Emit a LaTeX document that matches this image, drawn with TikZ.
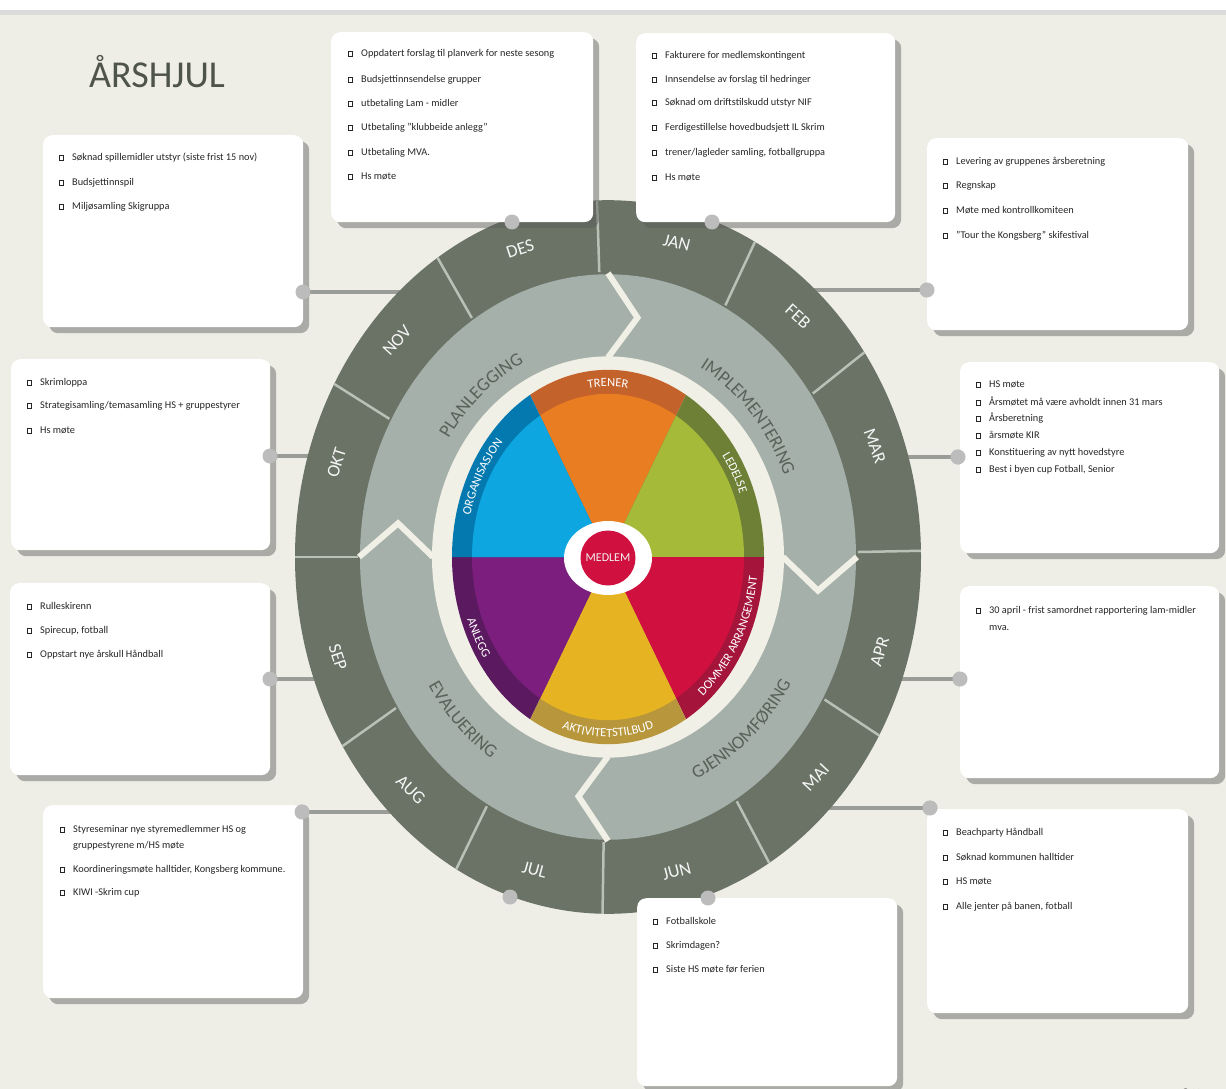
\documentclass[tikz,border=0pt]{standalone}
\usepackage{fontspec}
\setmainfont{Carlito}
\usetikzlibrary{shadows,decorations.text}
\definecolor{bg}{HTML}{EEEEE6}
\definecolor{ringdark}{HTML}{6A7366}
\definecolor{ringsep}{HTML}{B9C0B6}
\definecolor{phase}{HTML}{A6B0AA}
\definecolor{cream}{HTML}{F1F0E6}
\definecolor{phasetxt}{HTML}{59615A}
\definecolor{titlec}{HTML}{4E5447}
\definecolor{cOrange}{HTML}{E97D22}
\definecolor{cOrangeB}{HTML}{C4622B}
\definecolor{cGreen}{HTML}{A6BA39}
\definecolor{cGreenB}{HTML}{6E7F36}
\definecolor{cRed}{HTML}{D0103F}
\definecolor{cRedB}{HTML}{A4143B}
\definecolor{cYellow}{HTML}{E6B322}
\definecolor{cYellowB}{HTML}{B8973C}
\definecolor{cPurple}{HTML}{7C1E7E}
\definecolor{cPurpleB}{HTML}{5B1A5F}
\definecolor{cBlue}{HTML}{0EA6E0}
\definecolor{cBlueB}{HTML}{0479AF}
\definecolor{dotc}{HTML}{BCBCBC}
\definecolor{connc}{HTML}{9A9C98}
\newcommand{\sqb}{\raisebox{0.2pt}{\setlength{\fboxsep}{0pt}\setlength{\fboxrule}{0.75pt}\fbox{\rule{0pt}{4.2pt}\hspace{3.5pt}}}}
\newcommand{\itemfont}{\fontsize{10.3}{12}\selectfont}
\newcommand{\monthfont}{\fontsize{18}{18}\selectfont}
\newcommand{\phasefont}{\fontsize{18.5}{18.5}\selectfont}
\newcommand{\bandfont}{\fontsize{12.5}{12.5}\selectfont}
\begin{document}
\begin{tikzpicture}[x=1pt,y=-1pt,
  card/.style={fill=white, rounded corners=9pt, anchor=north west, inner sep=0pt,
    drop shadow={shadow xshift=6pt, shadow yshift=-6pt, opacity=0.45, fill=black!65}},
  itm/.style={anchor=west, font=\itemfont, text=black!85, inner sep=0pt, text height=7pt, text depth=2pt},
  dot/.style={circle, fill=dotc, minimum size=15pt, inner sep=0pt},
  conn/.style={draw=connc, line width=4pt},
  monthlbl/.style={text=white!96!black, font=\monthfont, inner sep=0pt},
  msep/.style={draw=ringsep, line width=2.5pt},
  chev/.style={draw=cream, line width=6pt, line join=miter},
]
\useasboundingbox (0,0) rectangle (1226,1089);
\clip (0,0) rectangle (1226,1089);
\fill[bg] (0,0) rectangle (1226,1089);
\fill[white] (0,0) rectangle (1226,10);
\fill[black!14] (0,10) rectangle (1226,15);

% title
\node[anchor=base west, font=\fontsize{38}{38}\selectfont, text=titlec, inner sep=0pt] (title) at (89,88) {ÅRSHJUL};

% connector ends (hidden behind the ring)
\coordinate (eNOV) at (430,292);
\coordinate (eFEB) at (790,290);
\coordinate (eOKT) at (350,456);
\coordinate (eMAR) at (870,457);
\coordinate (eSEP) at (350,679);
\coordinate (eAPR) at (870,679);
\coordinate (eAUG) at (430,812);
\coordinate (eMAI) at (800,808);

% dots
\node[dot] (dNOV) at (303,292) {};
\node[dot] (dFEB) at (927,290) {};
\node[dot] (dOKT) at (270,456) {};
\node[dot] (dMAR) at (958,457) {};
\node[dot] (dSEP) at (270,679) {};
\node[dot] (dAPR) at (960,679) {};
\node[dot] (dAUG) at (302,812) {};
\node[dot] (dMAI) at (930,808) {};

\foreach \n in {NOV,FEB,OKT,MAR,SEP,APR,AUG,MAI}
  \draw[conn] (d\n.center) -- (e\n);

% ===== wheel: month ring and phase ring =====
\begin{scope}[shift={(608,557)}, yscale=-1.14]
  \fill[ringdark] (0,0) circle[radius=313];
  \foreach \a in {92,62,35,1,-30,-59,-91,-119,-148,180,151,123} \draw[msep] (\a:250) -- (\a:313);
  \foreach \m/\a/\r in {JAN/76/-14, FEB/48/-42, MAR/20/-70, APR/-17/73, MAI/-43/47, JUN/-76/14,
                        JUL/-105/-15, AUG/-134/-44, SEP/-162/-72, OKT/163/73, NOV/138/48, DES/108/18}
    \node[monthlbl, rotate=\r] (m\m) at (\a:284) {\m};
  \fill[phase] (0,0) circle[radius=248];
  \fill[cream] (0,0) circle[radius=176];
  \foreach \a in {90,0,-90,180}
    \draw[chev] (\a:249) -- (\a-8:212) -- (\a:175);
  \path[decorate, decoration={text along path, text align=center,
      text={|\phasefont\color{phasetxt}|PLANLEGGING}}]
      (175:190) arc[start angle=175, end angle=85, radius=190];
  \path[decorate, decoration={text along path, text align=center,
      text={|\phasefont\color{phasetxt}|IMPLEMENTERING}}]
      (88:190) arc[start angle=88, end angle=-2, radius=190];
  \path[decorate, decoration={text along path, text align=center,
      text={|\phasefont\color{phasetxt}|GJENNOMFØRING}}]
      (-95:214) arc[start angle=-95, end angle=-5, radius=214];
  \path[decorate, decoration={text along path, text align=center,
      text={|\phasefont\color{phasetxt}|EVALUERING}}]
      (-178:212) arc[start angle=-178, end angle=-90, radius=212];
\end{scope}

% ===== coloured disc =====
\begin{scope}[shift={(608,557)}, yscale=-1.2]
  \foreach \s/\c in {60/Orange, 0/Green, -60/Red, -120/Yellow, 180/Purple, 120/Blue}{
    \fill[c\c B] (0,0) -- (\s:156) arc[start angle=\s, end angle=\s+60, radius=156] -- cycle;
    \fill[c\c] (0,0) -- (\s:136) arc[start angle=\s, end angle=\s+60, radius=136] -- cycle;
  }
  \path[decorate, decoration={text along path, text align=center,
      text={|\bandfont\color{white}|TRENER}}]
      (120:142) arc[start angle=120, end angle=60, radius=142];
  \path[decorate, decoration={text along path, text align=center,
      text={|\bandfont\color{white}|LEDELSE}}]
      (58:142) arc[start angle=58, end angle=2, radius=142];
  \path[decorate, decoration={text along path, text align=center,
      text={|\bandfont\color{white}|DOMMER ARRANGEMENT}}]
      (-60:150) arc[start angle=-60, end angle=2, radius=150];
  \path[decorate, decoration={text along path, text align=center,
      text={|\bandfont\color{white}|AKTIVITETSTILBUD}}]
      (-122:150) arc[start angle=-122, end angle=-58, radius=150];
  \path[decorate, decoration={text along path, text align=center,
      text={|\bandfont\color{white}|ANLEGG}}]
      (-180:150) arc[start angle=-180, end angle=-124, radius=150];
  \path[decorate, decoration={text along path, text align=center,
      text={|\bandfont\color{white}|ORGANISASJON}}]
      (180:142) arc[start angle=180, end angle=122, radius=142];
\end{scope}

% centre
\fill[white] (608,558) ellipse[x radius=44, y radius=37];
\node[circle, fill=cRed, minimum size=55pt, inner sep=0pt, text=white!95!black,
      font=\fontsize{12}{12}\selectfont] (medlem) at (608,558) {MEDLEM};

% ===== cards =====
\node[card, minimum width=260pt, minimum height=192pt] (bNOV) at (43,135) {};
\node[card, minimum width=262pt, minimum height=190pt] (bDES) at (331,32) {};
\node[card, minimum width=259pt, minimum height=189pt] (bJAN) at (636,33) {};
\node[card, minimum width=261pt, minimum height=192pt] (bFEB) at (927,138) {};
\node[card, minimum width=259pt, minimum height=191pt] (bOKT) at (11,359) {};
\node[card, minimum width=259pt, minimum height=191pt] (bMAR) at (960,362) {};
\node[card, minimum width=260pt, minimum height=192pt] (bSEP) at (10,583) {};
\node[card, minimum width=259pt, minimum height=192pt] (bAPR) at (960,586) {};
\node[card, minimum width=260pt, minimum height=193pt] (bAUG) at (43,805) {};
\node[card, minimum width=261pt, minimum height=204pt] (bMAI) at (927,809) {};
\node[card, minimum width=260pt, minimum height=188pt] (bJUN) at (637,898) {};

% dots on top of the cards
\foreach \n/\p in {NOV/{(303,292)},DES/{(512,222)},JAN/{(712,222)},FEB/{(927,290)},OKT/{(270,456)},
                   MAR/{(958,457)},SEP/{(270,679)},APR/{(960,679)},AUG/{(302,812)},MAI/{(930,808)},
                   JUN/{(708,898)},JUL/{(510,897)}}
  \node[dot] (k\n) at \p {};

% ===== card texts =====
\foreach \yy/\txt [count=\i] in {158/{Søknad spillemidler utstyr (siste frist 15 nov)},183/{Budsjettinnspil},207/{Miljøsamling Skigruppa}}
  \node[itm] (tNOV\i) at (72-13,\yy) {\makebox[13pt][l]{\sqb}\txt};
\foreach \yy/\txt [count=\i] in {54/{Oppdatert forslag til planverk for neste sesong},80/{Budsjettinnsendelse grupper},
   104/{utbetaling Lam - midler},128/{Utbetaling "klubbeide anlegg"},153/{Utbetaling MVA.},177/{Hs møte}}
  \node[itm] (tDES\i) at (361-13,\yy) {\makebox[13pt][l]{\sqb}\txt};
\foreach \yy/\txt [count=\i] in {56/{Fakturere for medlemskontingent},80/{Innsendelse av forslag til hedringer},
   103/{Søknad om driftstilskudd utstyr NIF},128/{Ferdigestillelse hovedbudsjett IL Skrim},
   153/{trener/lagleder samling, fotballgruppa},178/{Hs møte}}
  \node[itm] (tJAN\i) at (665-13,\yy) {\makebox[13pt][l]{\sqb}\txt};
\foreach \yy/\txt [count=\i] in {162/{Levering av gruppenes årsberetning},186/{Regnskap},211/{Møte med kontrollkomiteen},
   236/{"Tour the Kongsberg" skifestival}}
  \node[itm] (tFEB\i) at (956-13,\yy) {\makebox[13pt][l]{\sqb}\txt};
\foreach \yy/\txt [count=\i] in {383/{Skrimloppa},406/{Strategisamling/temasamling HS + gruppestyrer},431/{Hs møte}}
  \node[itm] (tOKT\i) at (40-13,\yy) {\makebox[13pt][l]{\sqb}\txt};
\foreach \yy/\txt [count=\i] in {385/{HS møte},403/{Årsmøtet må være avholdt innen 31 mars},419/{Årsberetning},
   436/{årsmøte KIR},453/{Konstituering av nytt hovedstyre},470/{Best i byen cup Fotball, Senior}}
  \node[itm] (tMAR\i) at (989-13,\yy) {\makebox[13pt][l]{\sqb}\txt};
\foreach \yy/\txt [count=\i] in {607/{Rulleskirenn},631/{Spirecup, fotball},655/{Oppstart nye årskull Håndball}}
  \node[itm] (tSEP\i) at (40-13,\yy) {\makebox[13pt][l]{\sqb}\txt};
\node[itm] (tAPR1) at (989-13,611) {\makebox[13pt][l]{\sqb}30 april - frist samordnet rapportering lam-midler};
\node[itm] (tAPR2) at (989,628) {mva.};
\node[itm] (tAUG1) at (73-13,830) {\makebox[13pt][l]{\sqb}Styreseminar nye styremedlemmer HS og};
\node[itm] (tAUG2) at (73,846) {gruppestyrene m/HS møte};
\node[itm] (tAUG3) at (73-13,870) {\makebox[13pt][l]{\sqb}Koordineringsmøte halltider, Kongsberg kommune.};
\node[itm] (tAUG4) at (73-13,893) {\makebox[13pt][l]{\sqb}KIWI -Skrim cup};
\foreach \yy/\txt [count=\i] in {833/{Beachparty Håndball},858/{Søknad kommunen halltider},882/{HS møte},
   907/{Alle jenter på banen, fotball}}
  \node[itm] (tMAI\i) at (956-13,\yy) {\makebox[13pt][l]{\sqb}\txt};
\foreach \yy/\txt [count=\i] in {922/{Fotballskole},946/{Skrimdagen?},970/{Siste HS møte før ferien}}
  \node[itm] (tJUN\i) at (666-13,\yy) {\makebox[13pt][l]{\sqb}\txt};

\node[anchor=base west, font=\fontsize{11}{11}\selectfont, text=black!80, inner sep=0pt] (copy) at (1181,1096) {© Norges};
\end{tikzpicture}
\end{document}
